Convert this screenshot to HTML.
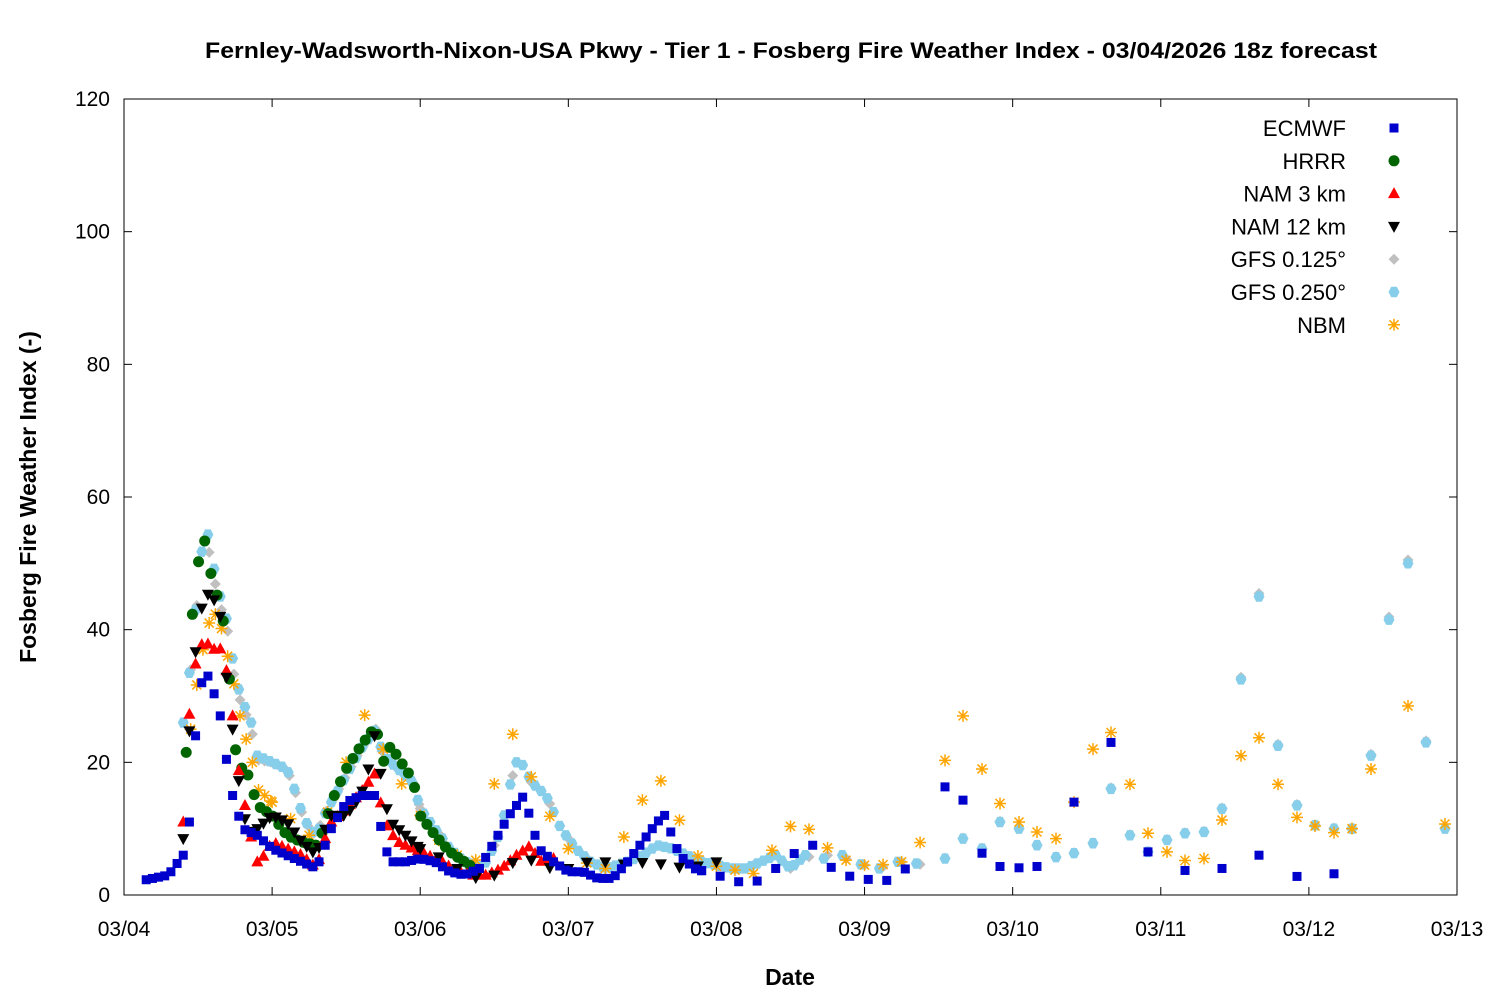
<!DOCTYPE html>
<html><head><meta charset="utf-8"><style>
body{margin:0;background:#fff}
svg text{font-family:"Liberation Sans","DejaVu Sans",sans-serif}
</style></head><body>
<svg id="s" width="1500" height="1000" xmlns="http://www.w3.org/2000/svg">
<rect width="1500" height="1000" fill="#fff"/>
<text x="205" y="58" font-size="22" font-weight="bold" textLength="1172" lengthAdjust="spacingAndGlyphs">Fernley-Wadsworth-Nixon-USA Pkwy - Tier 1 - Fosberg Fire Weather Index - 03/04/2026 18z forecast</text>
<rect x="124" y="99" width="1333" height="796" fill="none" stroke="#000" stroke-width="1"/>
<g id="ax" font-size="21"></g>
<text x="790" y="985" font-size="23" font-weight="bold" text-anchor="middle">Date</text>
<text transform="translate(36,497) rotate(-90)" font-size="23" font-weight="bold" text-anchor="middle">Fosberg Fire Weather Index (-)</text>
<g id="lg" font-size="22" text-anchor="end"></g>
<g id="pts"></g>
</svg>
<script>
const NS="http://www.w3.org/2000/svg";
const X0=124,X1=1457,Y0=895,Y1=99;
const px=d=>X0+d*(X1-X0)/9, py=v=>Y0-v*(Y0-Y1)/120;
const ax=document.getElementById('ax'),pts=document.getElementById('pts'),lg=document.getElementById('lg');
function el(t,a,p){const e=document.createElementNS(NS,t);for(const k in a)e.setAttribute(k,a[k]);(p||pts).appendChild(e);return e;}
for(let v=0;v<=120;v+=20){const y=py(v);
 el('line',{x1:X0,y1:y,x2:X0+8,y2:y,stroke:'#000'},ax);el('line',{x1:X1,y1:y,x2:X1-8,y2:y,stroke:'#000'},ax);
 const t=el('text',{x:110,y:y+7,'text-anchor':'end'},ax);t.textContent=v;}
const dl=['03/04','03/05','03/06','03/07','03/08','03/09','03/10','03/11','03/12','03/13'];
dl.forEach((s,i)=>{const x=px(i);el('line',{x1:x,y1:Y0,x2:x,y2:Y0-8,stroke:'#000'},ax);el('line',{x1:x,y1:Y1,x2:x,y2:Y1+8,stroke:'#000'},ax);
 const t=el('text',{x:x,y:936,'text-anchor':'middle'},ax);t.textContent=s;});
function mk(type,x,y,g){g=g||pts;
 if(type==='sq')el('rect',{x:x-4.5,y:y-4.5,width:9,height:9,fill:'#0000cc'},g);
 else if(type==='ci')el('circle',{cx:x,cy:y,r:5.5,fill:'#006400'},g);
 else if(type==='up')el('polygon',{points:`${x},${y-6.5} ${x-6},${y+4.5} ${x+6},${y+4.5}`,fill:'#f00'},g);
 else if(type==='dn')el('polygon',{points:`${x},${y+6.5} ${x-6},${y-4.5} ${x+6},${y-4.5}`,fill:'#000'},g);
 else if(type==='di')el('polygon',{points:`${x},${y-5.5} ${x+5.5},${y} ${x},${y+5.5} ${x-5.5},${y}`,fill:'#c0c0c0'},g);
 else if(type==='hx')el('polygon',{points:`${x-2.8},${y-5.2} ${x+2.8},${y-5.2} ${x+5.5},${y} ${x+2.8},${y+5.2} ${x-2.8},${y+5.2} ${x-5.5},${y}`,fill:'#87ceeb'},g);
 else if(type==='st'){const p=`M${x-6},${y}H${x+6}M${x},${y-6}V${y+6}M${x-4.5},${y-4.5}L${x+4.5},${y+4.5}M${x-4.5},${y+4.5}L${x+4.5},${y-4.5}`;el('path',{d:p,stroke:'#ffa500','stroke-width':1.5,fill:'none'},g);}
}
function interp(k,d){for(let i=0;i<k.length-1;i++){if(d>=k[i][0]&&d<=k[i+1][0]){const f=(d-k[i][0])/(k[i+1][0]-k[i][0]);return k[i][1]+f*(k[i+1][1]-k[i][1]);}}return null;}
function series(type,k,step,from,to){for(let d=from;d<=to+1e-6;d+=step){const v=interp(k,d);if(v!=null)mk(type,px(d),py(v));}}
function list(type,arr){arr.forEach(([x,v])=>mk(type,x,py(v)));}
const G=[[0.4,26],[0.45,35],[0.5,47],[0.55,56.5],[0.6,50],[0.65,45],[0.7,41],[0.75,33],[0.8,29],[0.85,27],[0.9,21],[1.0,20],[1.1,19],[1.15,16],[1.2,12.5],[1.25,10],[1.3,9],[1.35,12],[1.4,14],[1.5,18],[1.6,22],[1.7,25],[1.75,21],[1.85,19],[1.95,17],[2.0,13],[2.1,10],[2.2,7],[2.3,5],[2.4,4.5],[2.45,5],[2.55,10],[2.6,16],[2.65,20],[2.7,19.5],[2.75,17],[2.85,15],[2.95,10],[3.05,7],[3.15,5],[3.25,4],[3.4,5],[3.5,6],[3.6,7.5],[3.7,7],[3.8,6],[3.9,5],[4.0,4.5],[4.1,4],[4.2,4],[4.3,5],[4.4,6],[4.5,4],[4.6,6],[4.7,5],[4.8,7],[4.9,5],[5.0,4.5],[5.1,4],[5.2,5],[5.3,5],[5.4,4.5]];
const GF=G.map(([d,v])=>[d,v*(d<1?0.97:1)]);
series('di',GF,1/24,0.45,2.0);series('di',GF,1/8,2.0,5.4);
series('hx',G,1/24,0.4,4.6);series('hx',G,1/8,4.6,5.4);
const lateG=[[945,5.5],[963,8.5],[982,7],[1000,11],[1019,10],[1037,7.5],[1056,5.7],[1074,6.3],[1093,7.8],[1111,16],[1130,9],[1148,6.5],[1167,8.3],[1185,9.3],[1204,9.5],[1222,13],[1241,32.5],[1259,45],[1278,22.5],[1297,13.5],[1315,10.5],[1334,10],[1352,10],[1371,21],[1389,41.5],[1408,50],[1426,23],[1445,10]];
list('di',lateG.map(([x,v])=>[x,v*1.01]));list('hx',lateG);
const N=[[0.45,25],[0.5,33],[0.55,39],[0.6,43],[0.65,41],[0.7,36],[0.75,31],[0.8,25],[0.85,22],[0.9,16],[1.0,14],[1.1,12],[1.2,10],[1.3,8],[1.4,14],[1.5,20],[1.6,27.5],[1.7,26],[1.75,22],[1.85,18],[1.95,13],[2.0,12],[2.1,9],[2.2,6],[2.3,6],[2.4,5],[2.45,12],[2.55,21.5],[2.66,25.5],[2.72,18],[2.8,17.5],[2.9,10],[3.0,7],[3.1,5],[3.25,4],[3.4,9.7],[3.55,16.6],[3.66,17.5],[3.78,9.2],[3.9,5],[4.05,4],[4.2,3.5],[4.3,3],[4.45,10.5],[4.62,10],[4.8,6],[4.95,4.5],[5.1,4.5],[5.25,5],[5.4,8.5]];
series('st',N,1/24,0.45,1.0);series('st',N,1/8,1.0,5.4);
list('st',[[945,20.3],[963,27],[982,19],[1000,13.8],[1019,11],[1037,9.5],[1056,8.5],[1074,14],[1093,22],[1111,24.5],[1130,16.7],[1148,9.3],[1167,6.5],[1185,5.2],[1204,5.5],[1222,11.3],[1241,21],[1259,23.7],[1278,16.7],[1297,11.7],[1315,10.4],[1334,9.4],[1352,10],[1371,19],[1408,28.5],[1445,10.7]]);
const H=[[0.42,21.5],[0.46,42],[0.51,51.5],[0.54,54],[0.58,49],[0.65,43.5],[0.7,38],[0.73,24],[0.78,19.5],[0.84,18],[0.9,13.5],[1.0,12],[1.1,9],[1.2,8],[1.3,7.5],[1.35,10],[1.4,14],[1.5,19],[1.6,22.5],[1.7,25.5],[1.75,20],[1.8,22.5],[1.9,19],[1.95,17.5],[2.0,12],[2.1,9],[2.2,6.5],[2.3,5],[2.4,3.5]];
series('ci',H,1/24,0.42,2.4);
const R=[[0.4,11],[0.45,30.5],[0.5,37],[0.55,38.5],[0.6,36.5],[0.63,38.5],[0.68,35],[0.72,31],[0.75,22],[0.8,15.5],[0.85,9.5],[0.9,5],[0.95,6],[1.0,8],[1.1,7],[1.2,6],[1.3,4],[1.35,8],[1.4,11],[1.5,13],[1.6,15.5],[1.7,18.5],[1.72,15],[1.78,10],[1.85,8],[1.95,7],[2.05,6],[2.15,5],[2.25,3.5],[2.35,3],[2.45,3],[2.55,4],[2.65,6],[2.75,7.5],[2.8,5],[2.9,5.5]];
series('up',R,1/24,0.4,2.9);
const B=[[0.4,8.5],[0.45,28],[0.5,41],[0.55,45.5],[0.6,45],[0.65,42],[0.7,31],[0.75,22],[0.8,12.5],[0.85,9.5],[0.9,10],[1.0,12],[1.1,11],[1.2,8],[1.3,6],[1.35,9.5],[1.4,12],[1.5,12],[1.6,15],[1.65,19],[1.7,25],[1.75,15],[1.8,11],[1.9,9],[2.0,7],[2.1,6],[2.2,5],[2.3,3],[2.4,2.5],[2.5,3],[2.6,4.5],[2.7,6],[2.8,4.5],[2.9,4],[3.0,4],[3.2,5.5],[3.3,4.5],[3.55,5],[3.8,4],[4.0,5]];
series('dn',B,1/24,0.4,2.0);series('dn',B,1/8,2.0,4.0);
const E=[[0.15,2.3],[0.3,3],[0.4,6],[0.45,12],[0.5,30],[0.55,34],[0.6,31],[0.65,27],[0.72,16],[0.8,10],[0.9,9],[1.0,7],[1.1,6],[1.2,5],[1.3,4],[1.4,10],[1.5,14],[1.6,15],[1.7,15],[1.75,8],[1.8,5],[1.9,5],[2.0,5.5],[2.1,5],[2.2,3.5],[2.3,3],[2.4,4],[2.5,8],[2.6,12],[2.7,15],[2.75,11],[2.8,7],[2.9,5],[3.0,3.5],[3.1,3.5],[3.2,2.5],[3.3,2.5],[3.4,5],[3.5,8],[3.6,11],[3.65,12],[3.75,6],[3.85,4],[4.0,3],[4.15,2],[4.25,1.8],[4.35,3],[4.5,6],[4.65,7.5],[4.8,3.5],[4.95,2.5],[5.1,2.2],[5.2,2.2],[5.3,4.5]];
series('sq',E,1/24,0.15,3.9);series('sq',E,1/8,3.9,5.3);
list('sq',[[945,16.3],[963,14.3],[982,6.3],[1000,4.3],[1019,4.1],[1037,4.3],[1074,14],[1111,23],[1148,6.5],[1185,3.7],[1222,4],[1259,6],[1297,2.8],[1334,3.2]]);
const L=[['ECMWF','sq'],['HRRR','ci'],['NAM 3 km','up'],['NAM 12 km','dn'],['GFS 0.125°','di'],['GFS 0.250°','hx'],['NBM','st']];
L.forEach(([n,t],i)=>{const y=128+i*32.8;const tx=el('text',{x:1346,y:y+8},lg);tx.textContent=n;mk(t,1394,y,lg);});
</script>
</body></html>
